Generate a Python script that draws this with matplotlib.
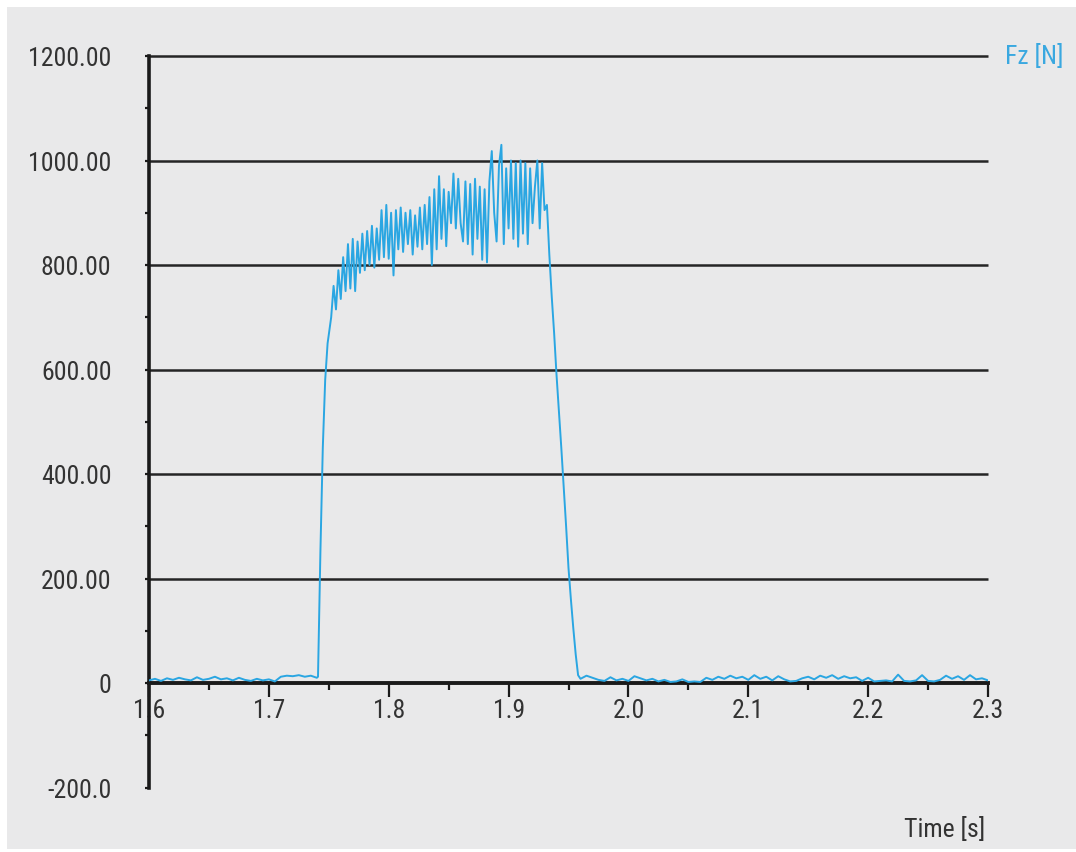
import numpy as np
import matplotlib
matplotlib.use("Agg")
import matplotlib.pyplot as plt
from matplotlib.patches import Rectangle
from matplotlib.ticker import MultipleLocator

plt.rcParams['font.family'] = ['Liberation Sans Narrow', 'Roboto Condensed', 'DejaVu Sans']
plt.rcParams['font.stretch'] = 'condensed'

# Fz [N] signal, in segments
t_pre = np.round(np.arange(1.600, 1.7401, 0.005), 3)
f_pre = [5, 8, 4, 9, 6, 10, 7, 5, 11, 6, 8, 12, 7, 9, 5, 10, 6, 4, 8, 5,
         7, 3, 12, 14, 13, 15, 12, 14, 10]

t_rise = [1.741, 1.743, 1.745, 1.747, 1.749]
f_rise = [12, 250, 450, 580, 650]

t_top = np.round(np.arange(1.752, 1.9341, 0.002), 3)
f_top = [700, 760, 715, 790, 735, 815, 750, 840, 755, 850,
         750, 845, 785, 860, 790, 865, 800, 875, 795, 870,
         810, 905, 815, 915, 812, 900, 780, 905, 830, 910,
         825, 900, 840, 905, 820, 895, 835, 910, 830, 915,
         840, 930, 800, 945, 830, 970, 850, 945, 836, 940,
         880, 975, 870, 965, 880, 845, 960, 840, 955, 820,
         965, 850, 950, 810, 945, 805, 960, 1018, 900, 845,
         990, 1030, 840, 985, 870, 1000, 850, 995, 835, 1000,
         860, 995, 840, 985, 880, 950, 1000, 870, 995, 905,
         915, 820]

t_fall = np.round(np.arange(1.936, 1.9601, 0.002), 3)
f_fall = [740, 670, 590, 520, 450, 375, 300, 220, 160, 105, 55, 15, 8]

t_post = np.round(np.arange(1.965, 2.3001, 0.005), 3)
f_post = [14, 10, 6, 4, 11, 5, 8, 4, 13, 9, 5, 8, 3, 6, 2, 3, 7, 2, 3, 2,
          10, 6, 12, 8, 14, 9, 12, 6, 15, 8, 12, 5, 13, 7, 3, 4, 9, 12, 7, 14,
          10, 15, 8, 13, 9, 11, 4, 10, 3, 4, 5, 3, 16, 4, 3, 5, 15, 4, 3, 6,
          14, 8, 13, 6, 15, 7, 9, 5]

y_ticks = [-200, 0, 200, 400, 600, 800, 1000, 1200]
y_labels = ['-200.0', '0', '200.00', '400.00', '600.00', '800.00', '1000.00', '1200.00']
x_ticks = [1.6, 1.7, 1.8, 1.9, 2.0, 2.1, 2.2, 2.3]
x_labels = ['1.6', '1.7', '1.8', '1.9', '2.0', '2.1', '2.2', '2.3']
grid_levels = [200, 400, 600, 800, 1000, 1200]

t = np.concatenate([t_pre, t_rise, t_top, t_fall, t_post])
fz = np.concatenate([f_pre, f_rise, f_top, f_fall, f_post])

W, H = 1076, 853
fig = plt.figure(figsize=(W / 100, H / 100), dpi=100)
fig.patch.set_facecolor('white')
bg = Rectangle((7 / W, 3 / H), 1 - 7 / W, 1 - 11 / H,
               transform=fig.transFigure, facecolor='#e9e9ea',
               edgecolor='none', zorder=-5)
fig.add_artist(bg)

ax = fig.add_axes([149 / W, 1 - 788.5 / H, (988 - 149) / W, (788.5 - 57) / H])
ax.set_facecolor('none')
ax.set_xlim(1.6, 2.3)
ax.set_ylim(-200, 1200)

ax.hlines(grid_levels, 1.6, 2.3, color='#252525', lw=1.8, zorder=1, clip_on=False)
ax.plot(t, fz, color='#2aa6e2', lw=1.4, zorder=3)

for s in ['top', 'right']:
    ax.spines[s].set_visible(False)
ax.spines['left'].set_linewidth(2.6)
ax.spines['left'].set_color('#1a1a1a')
ax.spines['bottom'].set_position(('data', 0))
ax.spines['bottom'].set_linewidth(2.8)
ax.spines['bottom'].set_color('#1a1a1a')
ax.spines['bottom'].set_zorder(2)

ax.set_xticks(x_ticks)
ax.set_xticklabels(x_labels)
ax.xaxis.set_minor_locator(MultipleLocator(0.05))
ax.set_yticks(y_ticks)
ax.set_yticklabels(y_labels)
ax.yaxis.set_minor_locator(MultipleLocator(100))

ax.tick_params(axis='x', which='major', direction='out', length=10, width=1.6,
               color='#1a1a1a', labelsize=18.5, labelcolor='#333333', pad=1)
ax.tick_params(axis='x', which='minor', direction='out', length=5, width=1.6,
               color='#1a1a1a')
ax.tick_params(axis='y', which='major', direction='out', length=3, width=1.6,
               color='#1a1a1a', labelsize=18.5, labelcolor='#333333', pad=24)
ax.tick_params(axis='y', which='minor', direction='out', length=3, width=1.6,
               color='#1a1a1a')

fig.text(985 / W, 1 - 830 / H, 'Time [s]', ha='right', va='center',
         fontsize=18.5, color='#333333')
fig.text(1005 / W, 1 - 57 / H, 'Fz [N]', ha='left', va='center',
         fontsize=18.5, color='#3aa8e0')

fig.savefig('out.png', dpi=100)
